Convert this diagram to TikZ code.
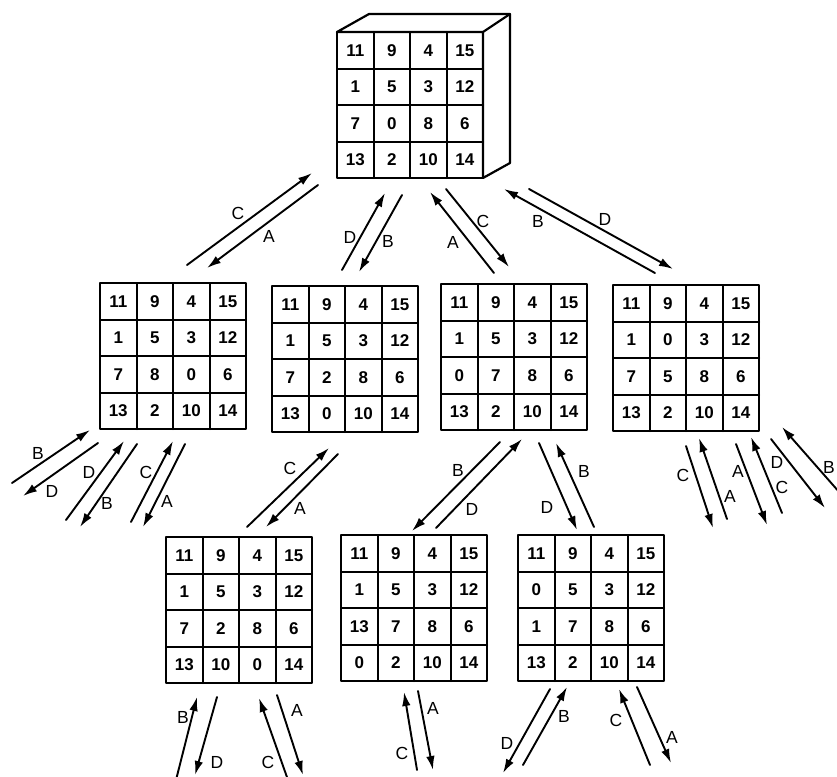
\documentclass[tikz,border=0pt]{standalone}
\usepackage{fontspec}
\setmainfont{Liberation Sans}
\usetikzlibrary{arrows.meta}

% one 4x4 board: name, left, top, entries
\newcommand{\board}[4]{%
  \node[boardbox] (#1) at (#2+73,#3+73) {};
  \foreach \e [count=\i from 0] in {#4} {
    \pgfmathtruncatemacro\cc{mod(\i,4)}
    \pgfmathtruncatemacro\rr{div(\i,4)}
    \node[cellnum] (#1-\i) at (#2+18.25+36.5*\cc,#3+18.25+36.5*\rr) {\e};
  }
  \foreach \k in {1,2,3} {
    \draw[gridline] (#2+36.5*\k,#3) -- (#2+36.5*\k,#3+146);
    \draw[gridline] (#2,#3+36.5*\k) -- (#2+146,#3+36.5*\k);
  }
}

\begin{document}
\begin{tikzpicture}[x=1pt, y=-1pt, line join=round, line cap=round,
    boardbox/.style={draw, line width=2.4pt, minimum width=146pt, minimum height=146pt, inner sep=0pt},
    gridline/.style={line width=2pt},
    cellnum/.style={font=\fontsize{17}{20}\selectfont\bfseries, inner sep=0pt},
    move/.style={line width=1.9pt, -{Latex[length=14pt,width=8.5pt]}},
    mv/.style={font=\fontsize{17.5}{20}\selectfont, inner sep=0pt}]
	\useasboundingbox (0,0) rectangle (837,776);
	% the start position, drawn as a block
	\draw[line width=2.2pt, fill=white] (337,32)--(369,14)--(510,14)--(510,163)--(483,178)--(483,32)--cycle;
	\draw[line width=2.2pt] (483,32)--(510,14);
	\board{start}{337}{32}{11,9,4,15,1,5,3,12,7,0,8,6,13,2,10,14}
	% first level
	\board{one}{100}{283}{11,9,4,15,1,5,3,12,7,8,0,6,13,2,10,14}
	\board{two}{272}{286}{11,9,4,15,1,5,3,12,7,2,8,6,13,0,10,14}
	\board{three}{441}{284}{11,9,4,15,1,5,3,12,0,7,8,6,13,2,10,14}
	\board{four}{613}{285}{11,9,4,15,1,0,3,12,7,5,8,6,13,2,10,14}
	% second level
	\board{five}{166}{537}{11,9,4,15,1,5,3,12,7,2,8,6,13,10,0,14}
	\board{six}{341}{535}{11,9,4,15,1,5,3,12,13,7,8,6,0,2,10,14}
	\board{seven}{518}{535}{11,9,4,15,0,5,3,12,1,7,8,6,13,2,10,14}
	% moves
	\foreach \n/\xa/\ya/\xb/\yb in {1/187/265/312/173, 2/318/185/207/268, 3/342/270/385/193, 4/402/195/359/272,
	  5/494/273/430/192, 6/446/189/509/267, 7/655/273/504/189, 8/529/189/673/269,
	  9/12/483/90/430, 10/98/443/23/496, 11/66/520/124/441, 12/137/444/80/527, 13/131/522/173/441, 14/185/444/143/527,
	  15/247/527/329/448, 16/338/454/266/527, 17/500/442/412/531, 18/436/528/522/439, 19/539/443/577/530, 20/594/527/556/443,
	  21/686/446/713/528, 22/727/519/699/438, 23/736/444/767/525, 24/782/513/751/437, 25/771/439/825/508, 26/840/493/782/427,
	  27/176/780/197/697, 28/217/697/195/775, 29/288/780/259/698, 30/277/695/303/775, 31/417/770/404/692, 32/418/691/433/770,
	  33/550/689/503/773, 34/523/765/567/687, 35/650/765/619/689, 36/637/687/671/763} {
		\coordinate (s\n) at (\xa,\ya);
		\coordinate (e\n) at (\xb,\yb);
		\draw[move] (s\n) -- (e\n);
	}
	% move letters
	\foreach \n/\x/\y/\t in {1/238/213/C, 2/269/236/A, 3/350/237/D, 4/388/241/B, 5/453/242/A, 6/483/221/C, 7/538/221/B, 8/605/219/D,
	  9/38/453/B, 10/52/491/D, 11/89/472/D, 12/107/503/B, 13/146/472/C, 14/167/501/A,
	  15/290/468/C, 16/300/508/A, 17/458/470/B, 18/472/509/D, 19/547/507/D, 20/584/471/B,
	  21/683/475/C, 22/730/496/A, 23/738/471/A, 24/782/487/C, 25/777/462/D, 26/829/467/B,
	  27/183/717/B, 28/217/762/D, 29/268/762/C, 30/297/710/A, 31/402/753/C, 32/433/708/A,
	  33/507/743/D, 34/564/716/B, 35/616/720/C, 36/672/737/A}
		\node[mv] (l\n) at (\x,\y) {\t};
\end{tikzpicture}
\end{document}
